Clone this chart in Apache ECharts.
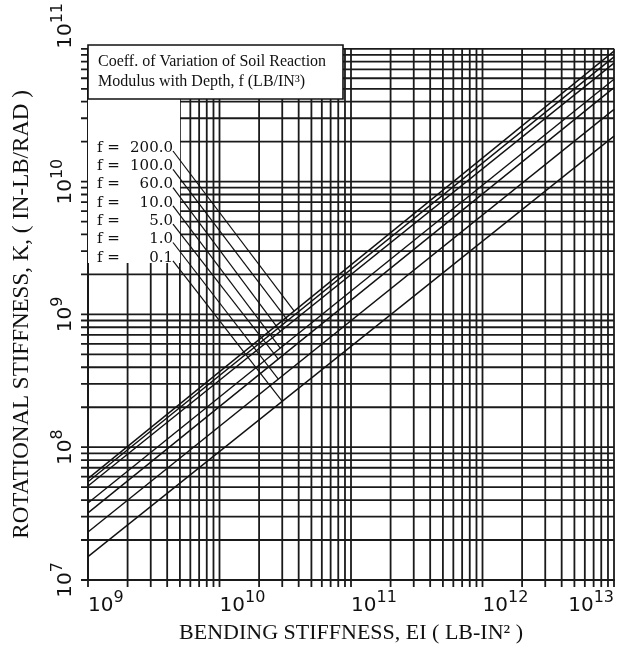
<!DOCTYPE html>
<html>
<head>
<meta charset="utf-8">
<script src="https://cdn.jsdelivr.net/npm/echarts@6/dist/echarts.min.js"></script>
<style>html,body{margin:0;padding:0;background:#fff}#c{width:644px;height:652px}</style>
</head>
<body>
<div id="c"></div>
<script>
// ---- data ----
const EI_RANGE = [1e9, 1e13];
const K_RANGE = [1e7, 1e11];
const xExponents = [9, 10, 11, 12, 13];
const yExponents = [7, 8, 9, 10, 11];
const fLabels = ['200.0', '100.0', '60.0', '10.0', '5.0', '1.0', '0.1'];
// K at EI = 1e9 and EI = 1e13 for each f
const K_f200 = [5.8e7, 9.6e10];
const K_f100 = [5.5e7, 8.7e10];
const K_f60 = [5.1e7, 7.8e10];
const K_f10 = [3.8e7, 5.9e10];
const K_f5 = [3.2e7, 5.1e10];
const K_f1 = [2.3e7, 3.5e10];
const K_f01 = [1.5e7, 2.2e10];
const allK = [K_f200, K_f100, K_f60, K_f10, K_f5, K_f1, K_f01];
// EI where each leader meets its line
const leaderEI = [3.7e10, 3.3e10, 2.9e10, 2.9e10, 2.8e10, 2.8e10, 3.0e10];

const mult = [1, 2, 3, 4, 5, 6, 7, 8, 9];
function gridVals(exps) {
  const out = [];
  for (let i = 0; i < exps.length - 1; i++) for (const m of mult) out.push(m * Math.pow(10, exps[i]));
  out.push(Math.pow(10, exps[exps.length - 1]));
  return out;
}
const xGrid = gridVals(xExponents);
const yGrid = gridVals(yExponents);

const chart = echarts.init(document.getElementById('c'));
const TICK = 7;
const gridColor = '#1a1a1a';

const supRich = {
  b: { fontFamily: 'DejaVu Sans', fontSize: 20, color: '#111', verticalAlign: 'bottom', lineHeight: 26 },
  s: { fontFamily: 'DejaVu Sans', fontSize: 16, color: '#111', verticalAlign: 'top', lineHeight: 16 }
};
function powFmt(v) { return '{b|10}{s|' + Math.round(Math.log10(v)) + '}'; }

const series = [
  {
    type: 'custom', z: 1, silent: true, clip: false,
    data: xGrid.map(v => [v, K_RANGE[0]]),
    encode: { x: 0, y: 1 },
    renderItem: function (params, api) {
      const v = api.value(0);
      const p0 = api.coord([v, K_RANGE[0]]);
      const p1 = api.coord([v, K_RANGE[1]]);
      return { type: 'line', shape: { x1: p0[0], y1: p1[1], x2: p0[0], y2: p0[1] + TICK },
        style: { stroke: gridColor, lineWidth: 1.8 } };
    }
  },
  {
    type: 'custom', z: 1, silent: true, clip: false,
    data: yGrid.map(v => [EI_RANGE[0], v]),
    encode: { x: 0, y: 1 },
    renderItem: function (params, api) {
      const v = api.value(1);
      const p0 = api.coord([EI_RANGE[0], v]);
      const p1 = api.coord([EI_RANGE[1], v]);
      return { type: 'line', shape: { x1: p0[0] - TICK, y1: p0[1], x2: p1[0], y2: p0[1] },
        style: { stroke: gridColor, lineWidth: 1.8 } };
    }
  }
];
allK.forEach((k, i) => {
  series.push({
    type: 'line', z: 5, silent: true, symbol: 'none', clip: true,
    name: 'f=' + fLabels[i],
    data: [[EI_RANGE[0], k[0]], [EI_RANGE[1], k[1]]],
    lineStyle: { color: '#111', width: 1.4 }
  });
});

chart.setOption({
  animation: false,
  backgroundColor: '#fff',
  grid: { left: 88, right: 30, top: 45, bottom: 72, containLabel: false },
  xAxis: {
    type: 'log', logBase: 10, min: EI_RANGE[0], max: EI_RANGE[1],
    name: 'BENDING STIFFNESS, EI ( LB-IN² )', nameLocation: 'middle', nameGap: 42,
    nameTextStyle: { fontFamily: 'Liberation Serif', fontSize: 22, color: '#111' },
    axisLine: { show: true, lineStyle: { color: '#111', width: 2 } },
    axisTick: { show: false }, splitLine: { show: false },
    axisLabel: { formatter: powFmt, rich: supRich, margin: 10, align: 'left', alignMaxLabel: 'right' }
  },
  yAxis: {
    type: 'log', logBase: 10, min: K_RANGE[0], max: K_RANGE[1],
    name: 'ROTATIONAL STIFFNESS, K, ( IN-LB/RAD )', nameLocation: 'middle', nameGap: 55,
    nameTextStyle: { fontFamily: 'Liberation Serif', fontSize: 23, color: '#111' },
    axisLine: { show: true, lineStyle: { color: '#111', width: 2 } },
    axisTick: { show: false }, splitLine: { show: false },
    axisLabel: { formatter: powFmt, rich: supRich, rotate: 90, margin: 12, alignMaxLabel: 'left' }
  },
  series: series
});

// ---- annotation box and labels ----
const boxL = 88, boxT = 45, boxR = 343, boxB = 99;
const labTop = 148, labStep = 18.3, labRight = 173;
const labFont = '15px "DejaVu Serif"';
const graphics = [
  { type: 'rect', z: 10, shape: { x: boxL, y: boxB, width: 92, height: 164 }, style: { fill: '#fff' } },
  { type: 'rect', z: 10, shape: { x: boxL, y: boxT, width: boxR - boxL, height: boxB - boxT },
    style: { fill: '#fff', stroke: '#111', lineWidth: 1.6 } },
  { type: 'text', z: 11, x: 98, y: 62, style: { text: 'Coeff. of Variation of Soil Reaction',
    font: '16px "Liberation Serif"', fill: '#111', verticalAlign: 'middle' } },
  { type: 'text', z: 11, x: 98, y: 82, style: { text: 'Modulus with Depth, f (LB/IN³)',
    font: '16px "Liberation Serif"', fill: '#111', verticalAlign: 'middle' } }
];
fLabels.forEach((lab, i) => {
  const y = labTop + i * labStep;
  graphics.push({ type: 'text', z: 11, x: 97, y: y, style: { text: 'f =', font: labFont,
    fill: '#111', verticalAlign: 'middle' } });
  graphics.push({ type: 'text', z: 11, x: labRight, y: y, style: { text: lab, font: labFont,
    fill: '#111', align: 'right', verticalAlign: 'middle' } });
  const k = allK[i];
  const t = (Math.log10(leaderEI[i]) - 9) / 4;
  const kv = Math.pow(10, Math.log10(k[0]) + t * (Math.log10(k[1]) - Math.log10(k[0])));
  const end = chart.convertToPixel({ gridIndex: 0 }, [leaderEI[i], kv]);
  graphics.push({ type: 'line', z: 12, shape: { x1: labRight, y1: y + 3, x2: end[0], y2: end[1] },
    style: { stroke: '#111', lineWidth: 1.2 } });
});
chart.setOption({ graphic: graphics });
</script>
</body>
</html>
